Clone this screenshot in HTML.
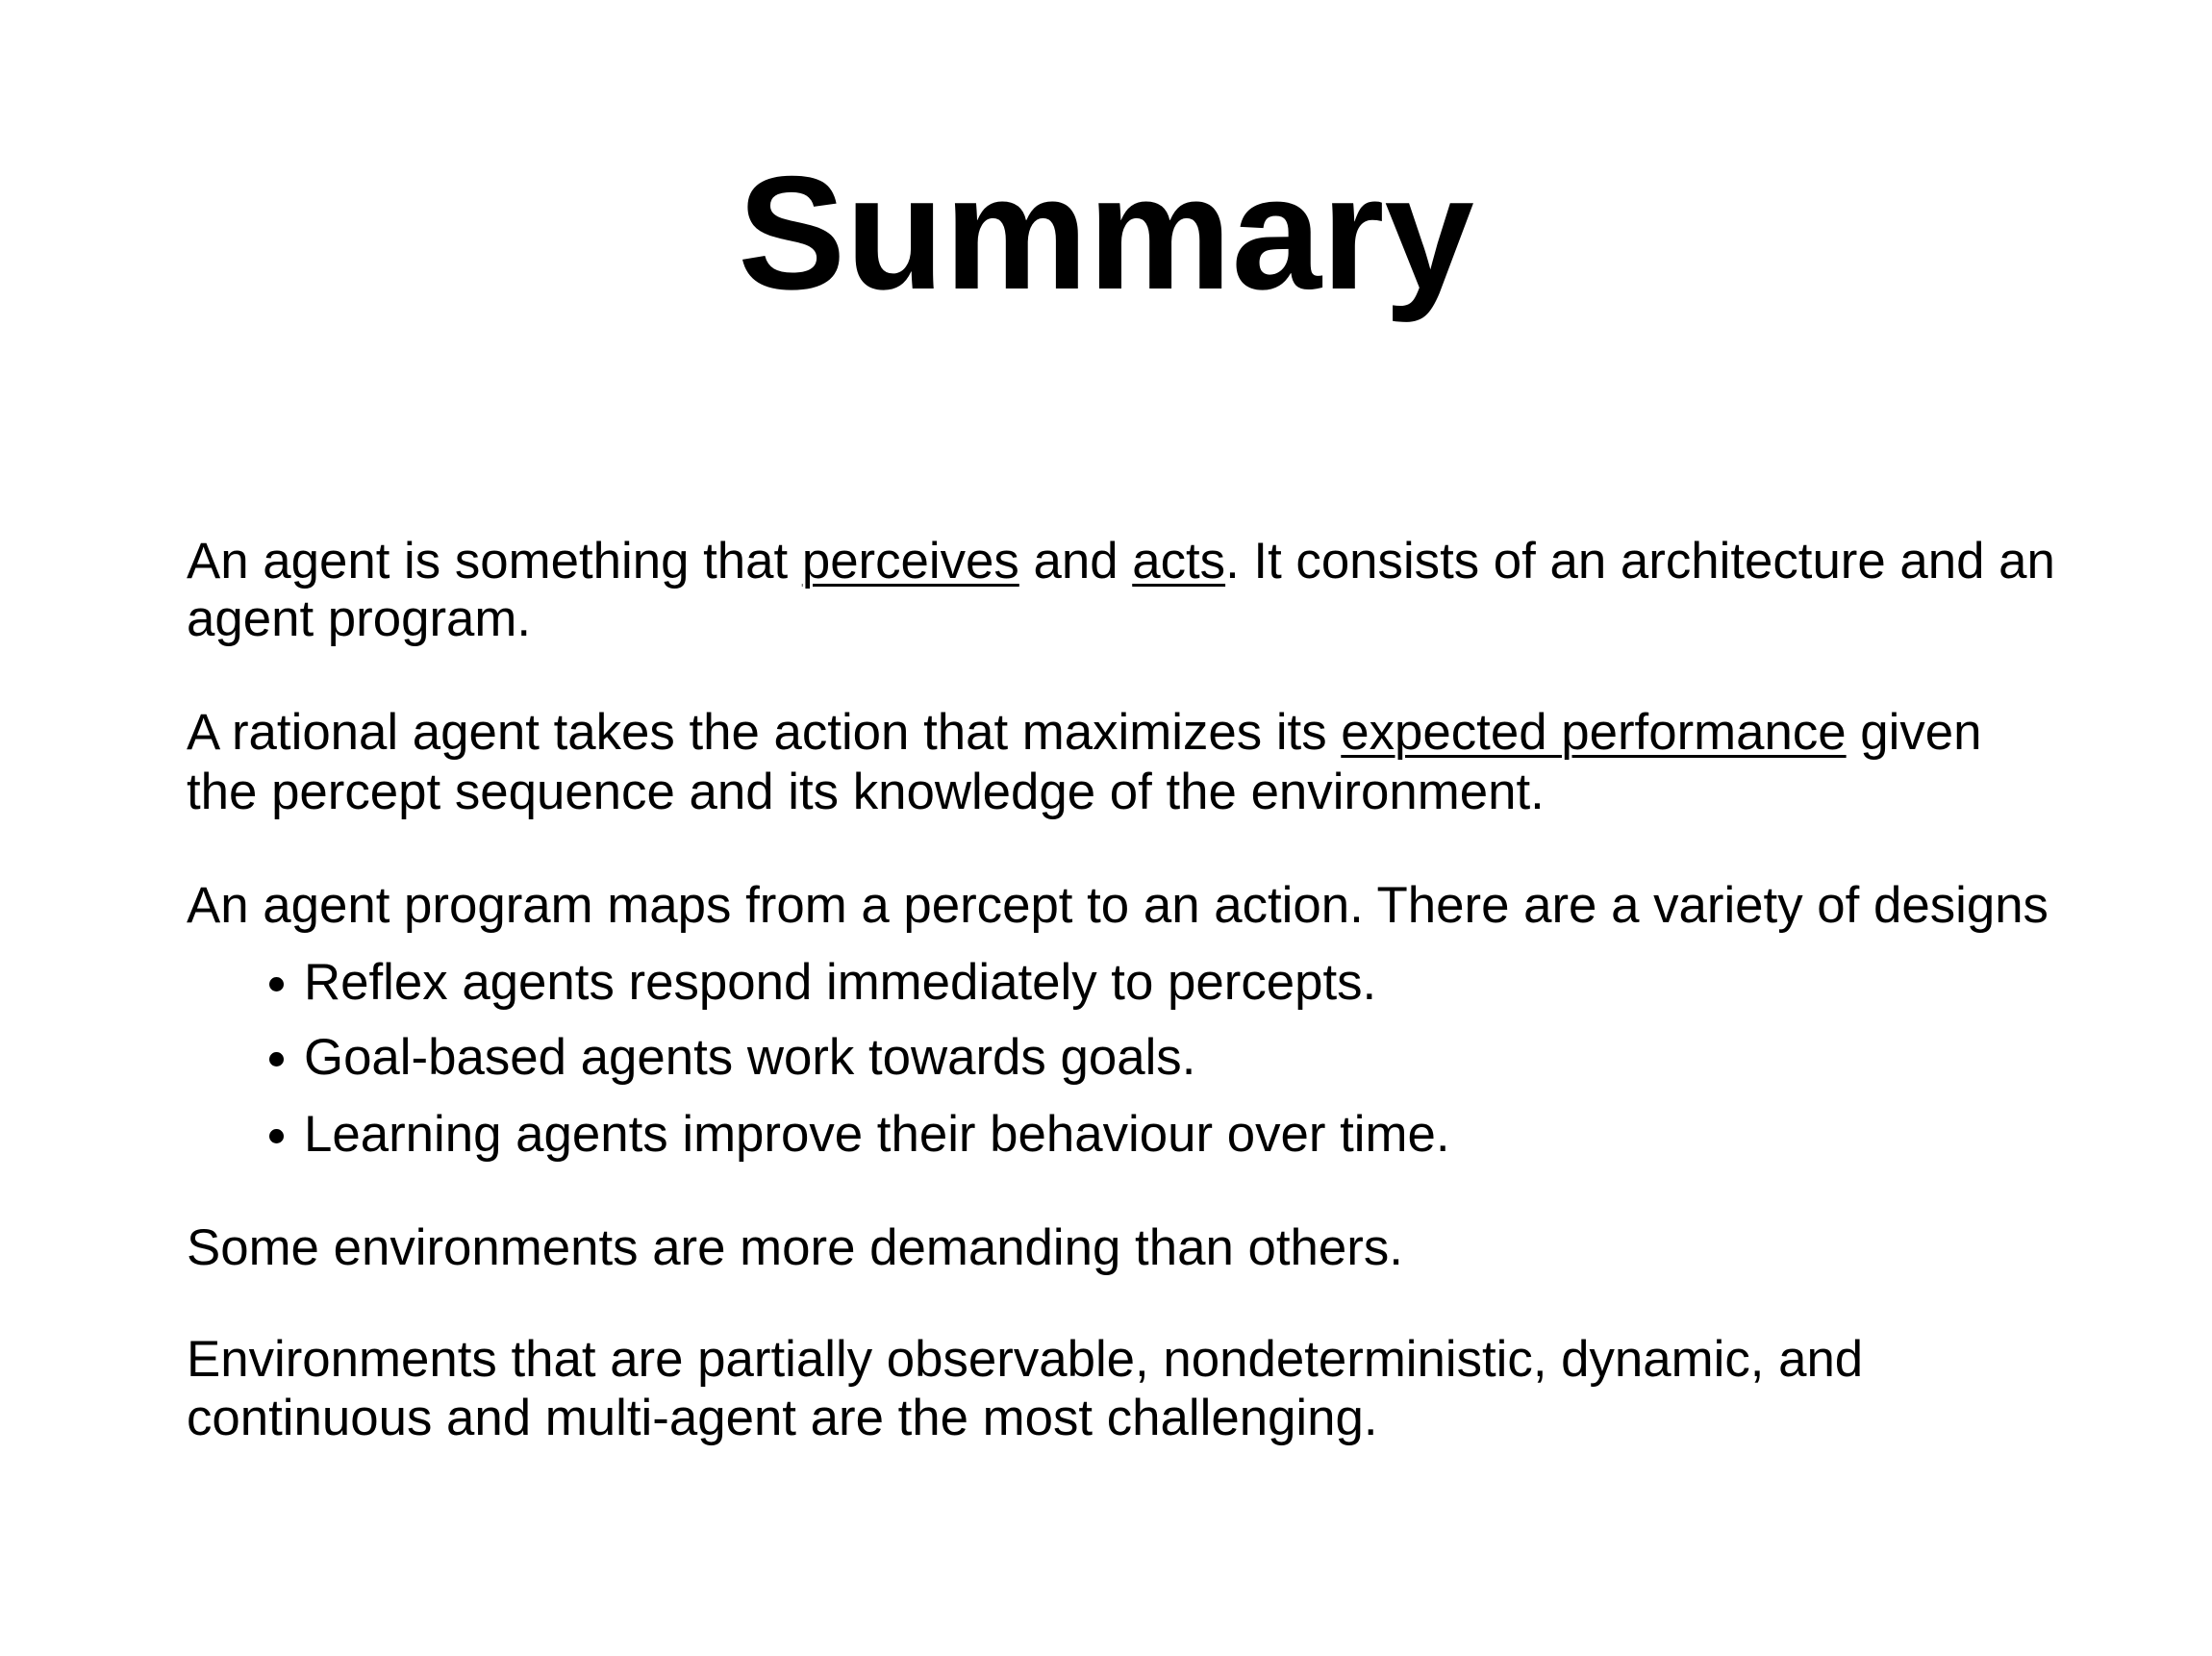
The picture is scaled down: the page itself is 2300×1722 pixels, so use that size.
<!DOCTYPE html>
<html><head><meta charset="utf-8"><style>
html,body{margin:0;padding:0;background:#fff;}
body{width:2300px;height:1722px;position:relative;overflow:hidden;font-family:"Liberation Sans",Arial,sans-serif;color:#000;}
.t{position:absolute;left:0;width:2300px;text-align:center;font-size:168px;line-height:168px;top:158px;font-weight:bold;}
.l{position:absolute;left:194px;font-size:52.8px;line-height:52px;white-space:nowrap;}
.b{left:316px;}
.dot{position:absolute;left:280px;width:15px;height:15px;border-radius:50%;background:#000;}
u{text-underline-offset:6px;text-decoration-thickness:3px;}
</style></head><body>
<div class="t">Summary</div>
<div class="l" style="top:558px">An agent is something that <u>perceives</u> and <u>acts</u>. It consists of an architecture and an</div>
<div class="l" style="top:618px">agent program.</div>
<div class="l" style="top:736px">A rational agent takes the action that maximizes its <u>expected performance</u> given</div>
<div class="l" style="top:798px">the percept sequence and its knowledge of the environment.</div>
<div class="l" style="top:916px">An agent program maps from a percept to an action. There are a variety of designs</div>
<div class="dot" style="top:1016px"></div>
<div class="l b" style="top:996px">Reflex agents respond immediately to percepts.</div>
<div class="dot" style="top:1094px"></div>
<div class="l b" style="top:1074px">Goal-based agents work towards goals.</div>
<div class="dot" style="top:1174px"></div>
<div class="l b" style="top:1154px">Learning agents improve their behaviour over time.</div>
<div class="l" style="top:1272px">Some environments are more demanding than others.</div>
<div class="l" style="top:1388px">Environments that are partially observable, nondeterministic, dynamic, and</div>
<div class="l" style="top:1449px">continuous and multi-agent are the most challenging.</div>
</body></html>
